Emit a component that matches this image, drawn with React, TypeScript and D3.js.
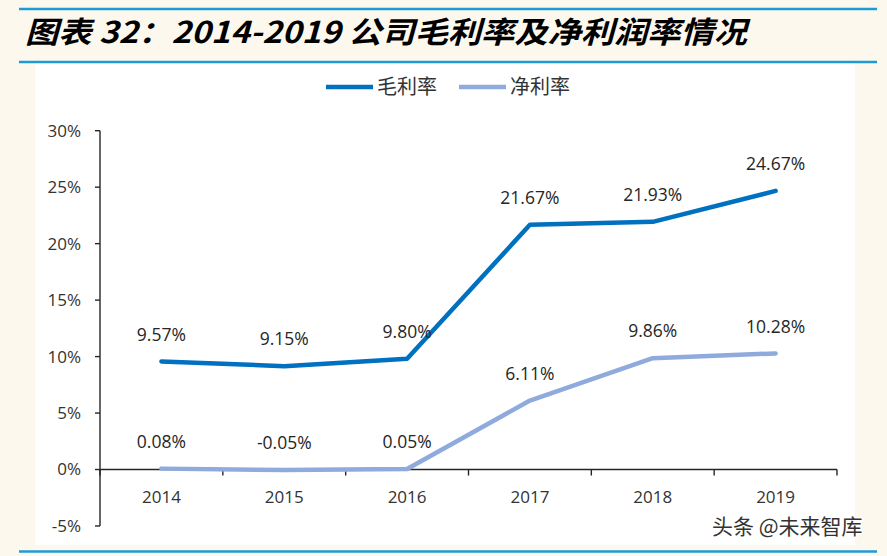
import React from "react";
import * as d3 from "d3";

const years = ["2014", "2015", "2016", "2017", "2018", "2019"];
const grossMargin = [9.57, 9.15, 9.8, 21.67, 21.93, 24.67];
const netMargin = [0.08, -0.05, 0.05, 6.11, 9.86, 10.28];
const yTicks = [-5, 0, 5, 10, 15, 20, 25, 30];
const seriesNames = ["毛利率", "净利率"];
const seriesColors = ["#0070c0", "#8faadc"];

const W = 887;
const H = 556;
const LATIN = "'Open Sans', 'Liberation Sans', sans-serif";
const CJK = "'Noto Sans CJK SC', sans-serif";

export default function App() {
  const x = d3.scalePoint<string>().domain(years).range([100, 837]).padding(0.5);
  const y = d3.scaleLinear().domain([-5, 30]).range([526, 130.7]);
  const band = (837 - 100) / years.length;

  const line = d3
    .line<number>()
    .x((_, i) => x(years[i]) as number)
    .y((d) => y(d));

  const series = [grossMargin, netMargin];
  const fmt = (v: number) => v.toFixed(2) + "%";

  return (
    <div style={{ position: "absolute", left: 0, top: 0 }}>
      <svg width={W} height={H} viewBox={`0 0 ${W} ${H}`} style={{ display: "block" }}>
        <rect x={0} y={0} width={W} height={H} fill="#fdf8ee" />
        <rect x={35} y={63} width={820} height={482} fill="#ffffff" />
        {/* header lines */}
        <line x1={19} x2={877} y1={9} y2={9} stroke="#1e9bd7" strokeWidth={2.5} />
        <line x1={19} x2={877} y1={62} y2={62} stroke="#1e9bd7" strokeWidth={2.5} />
        <line x1={19} x2={877} y1={551.5} y2={551.5} stroke="#1e9bd7" strokeWidth={2.5} />
        <text
          x={25}
          y={43}
          fontFamily={CJK}
          fontWeight={700}
          fontStyle="italic"
          fontSize={30}
          fill="#000"
          textLength={722}
          lengthAdjust="spacingAndGlyphs"
        >
          图表 32：2014-2019 公司毛利率及净利润率情况
        </text>

        {/* legend */}
        {seriesNames.map((name, i) => {
          const lx = i === 0 ? 326 : 459;
          return (
            <g key={name}>
              <line x1={lx} x2={lx + 47} y1={87} y2={87} stroke={seriesColors[i]} strokeWidth={4.5} />
              <text x={lx + 51} y={94} fontFamily={CJK} fontSize={20} fill="#333">
                {name}
              </text>
            </g>
          );
        })}

        {/* y axis */}
        <line x1={100} x2={100} y1={y(30)} y2={y(-5)} stroke="#262626" strokeWidth={1.4} />
        {yTicks.map((t) => (
          <g key={t}>
            <line x1={95} x2={100} y1={y(t)} y2={y(t)} stroke="#262626" strokeWidth={1.4} />
            <text
              x={81}
              y={y(t)}
              dy="0.35em"
              textAnchor="end"
              fontFamily={LATIN}
              fontSize={17}
              fill="#333"
            >
              {t}%
            </text>
          </g>
        ))}

        {/* x axis */}
        <line x1={100} x2={837} y1={y(0)} y2={y(0)} stroke="#262626" strokeWidth={1.4} />
        {d3.range(years.length + 1).map((i) => (
          <line
            key={i}
            x1={100 + i * band}
            x2={100 + i * band}
            y1={y(0)}
            y2={y(0) + 6}
            stroke="#262626"
            strokeWidth={1.4}
          />
        ))}
        {years.map((yr) => (
          <text
            key={yr}
            x={x(yr)}
            y={497}
            dy="0.35em"
            textAnchor="middle"
            fontFamily={LATIN}
            fontSize={17}
            fill="#333"
          >
            {yr}
          </text>
        ))}

        {/* lines */}
        {series.map((s, i) => (
          <path
            key={i}
            d={line(s) as string}
            fill="none"
            stroke={seriesColors[i]}
            strokeWidth={4.5}
            strokeLinejoin="round"
            strokeLinecap="round"
          />
        ))}

        {/* labels */}
        {series.map((s, i) =>
          s.map((v, j) => (
            <text
              key={`${i}-${j}`}
              x={x(years[j])}
              y={y(v) - 27}
              dy="0.35em"
              textAnchor="middle"
              fontFamily={LATIN}
              fontSize={17.5}
              fill="#262626"
            >
              {fmt(v)}
            </text>
          ))
        )}

        {/* watermark */}
        <text
          x={712}
          y={527}
          dy="0.35em"
          fontFamily={CJK}
          fontSize={21}
          fill="#333"
          stroke="#ffffff"
          strokeWidth={3}
          paintOrder="stroke"
        >
          头条 @未来智库
        </text>
      </svg>
    </div>
  );
}
